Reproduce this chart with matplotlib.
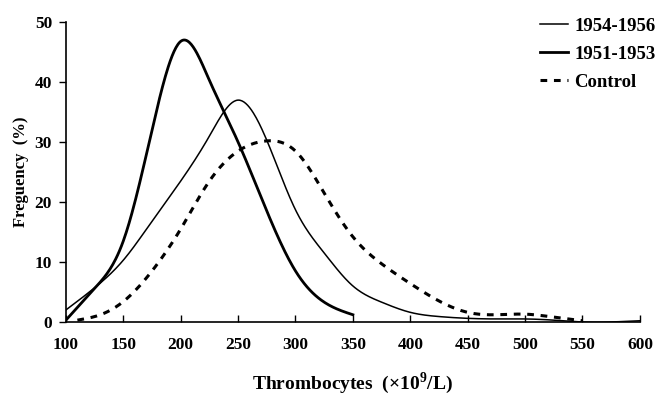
import matplotlib.pyplot as plt
import numpy as np

plt.rcParams['font.family'] = 'Liberation Serif'
plt.rcParams['font.weight'] = 'bold'
plt.rcParams['mathtext.fontset'] = 'custom'
plt.rcParams['mathtext.rm'] = 'Liberation Serif:bold'

# données (pas de 25)
x_5456 = [100, 125, 150, 175, 200, 225, 250, 275, 300, 325, 350, 375, 400, 425, 450, 475, 500, 525, 550, 575, 600]
y_5456 = [2.0, 5.7, 10.3, 16.8, 23.5, 31, 37, 30.3, 18.7, 11.5, 6, 3.3, 1.6, 0.9, 0.6, 0.5, 0.5, 0.3, 0, 0, 0.2]

x_5153 = [100, 125, 150, 175, 200, 225, 250, 275, 300, 325, 350]
y_5153 = [0.3, 5.6, 13.5, 32, 46.8, 40.3, 30, 18.5, 8.5, 3.3, 1.2]

x_ctrl = [110, 130, 150, 175, 200, 225, 250, 275, 300, 325, 350, 375, 400, 425, 450, 475, 500, 525, 550]
y_ctrl = [0.3, 1.2, 3.4, 8.5, 15.5, 23.5, 28.5, 30.2, 28.5, 21.5, 14.2, 9.7, 6.4, 3.5, 1.6, 1.2, 1.3, 0.8, 0.2]


def lisse(x, y, n=30):
    # spline cubique naturelle pour le tracé lissé
    x = np.asarray(x, float); y = np.asarray(y, float)
    N = len(x); h = np.diff(x); d = np.diff(y) / h
    A = np.zeros((N, N)); b = np.zeros(N)
    A[0, 0] = A[-1, -1] = 1
    for i in range(1, N-1):
        A[i, i-1] = h[i-1]; A[i, i] = 2*(h[i-1]+h[i]); A[i, i+1] = h[i]
        b[i] = 6*(d[i] - d[i-1])
    M = np.linalg.solve(A, b)
    XX, YY = [], []
    for i in range(N-1):
        xs = np.linspace(x[i], x[i+1], n, endpoint=False)
        a = x[i+1] - xs; c = xs - x[i]
        ys = (M[i]*a**3 + M[i+1]*c**3)/(6*h[i]) + (y[i]/h[i] - M[i]*h[i]/6)*a + (y[i+1]/h[i] - M[i+1]*h[i]/6)*c
        XX.extend(xs); YY.extend(ys)
    XX.append(x[-1]); YY.append(y[-1])
    return np.array(XX), np.array(YY)


fig = plt.figure(figsize=(6.59, 3.96), dpi=100)
ax = fig.add_axes([0.100, 0.187, 0.871, 0.757])

ax.plot(*lisse(x_5456, y_5456), color='black', lw=1.1, label='1954-1956')
ax.plot(*lisse(x_5153, y_5153), color='black', lw=2.0, label='1951-1953')
ax.plot(*lisse(x_ctrl, y_ctrl), color='black', lw=2.2, dashes=(2.2, 2.2), label='Control')

ax.set_xlim(100, 600)
ax.set_ylim(0, 50)
ax.set_xticks(range(100, 601, 50))
ax.set_yticks(range(0, 51, 10))
ax.spines['top'].set_visible(False)
ax.spines['right'].set_visible(False)
ax.spines['left'].set_linewidth(1.2)
ax.spines['bottom'].set_linewidth(1.2)
ax.tick_params(axis='x', direction='in', length=5, width=1, labelsize=12.5, pad=11)
ax.tick_params(axis='y', direction='out', length=5, width=1, labelsize=12.5, pad=5)

ax.set_xlabel(r'Thrombocytes  (×10$^{9}$/L)', fontsize=14, fontweight='bold', labelpad=12)
ax.set_ylabel('Freguency  (%)', fontsize=12, fontweight='bold', labelpad=4)

ax.legend(loc='upper right', bbox_to_anchor=(1.005, 0.972), bbox_transform=fig.transFigure,
          borderaxespad=0, borderpad=0.35, frameon=False, fontsize=13.5,
          handlelength=1.45, handletextpad=0.37, labelspacing=0.58)

plt.savefig('out.png', dpi=100)
